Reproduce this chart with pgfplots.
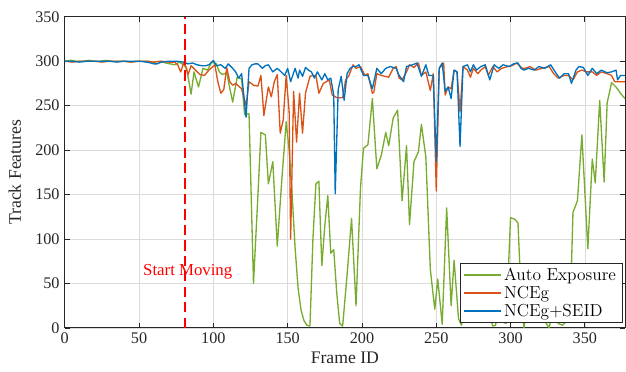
\documentclass[border=0pt]{standalone}
\usepackage{pgfplots}
\pgfplotsset{compat=1.18}
\usepackage{fontspec}
\newfontfamily\tnr{Liberation Serif}
\definecolor{mblue}{rgb}{0,0.447,0.741}
\definecolor{morange}{rgb}{0.85,0.325,0.098}
\definecolor{mgreen}{rgb}{0.466,0.674,0.188}
\definecolor{axgray}{rgb}{0.15,0.15,0.15}
\begin{document}
\begin{tikzpicture}
\begin{axis}[
 scale only axis, width=380.5pt, height=211.3pt,
 xmin=0, xmax=377, ymin=0, ymax=350,
 xtick={0,50,...,350}, ytick={0,50,...,350},
 tick align=inside, xtick pos=both, ytick pos=both,
 major tick length=3.5pt,
 grid=major, major grid style={color=black!14, line width=0.4pt},
 axis line style={axgray, line width=0.6pt},
 every tick/.style={axgray, line width=0.5pt},
 ticklabel style={font=\fontsize{11}{13}\selectfont\tnr, text=axgray},
 /pgf/number format/assume math mode=true,
 xlabel={Frame ID}, ylabel={Track Features},
 label style={font=\fontsize{12}{14}\selectfont\tnr, text=axgray},
 xlabel style={at={(axis description cs:0.5,0)}, anchor=center, yshift=-20.2pt},
 ylabel style={at={(axis description cs:-0.089,0.5)}, anchor=center},
 legend style={at={(0.995,0.017)}, anchor=south east, font=\fontsize{11.8}{13}\selectfont, draw=axgray, fill=white, inner xsep=2pt, inner ysep=1.5pt, row sep=0pt, nodes={fill=none, inner ysep=1.2pt}},
 legend cell align=left,
 legend image code/.code={\draw[#1] (0pt,0pt) -- (25pt,0pt);},
]
\addplot[color=mgreen, line width=0.9pt, line join=round, mark=none] coordinates {
(0,300)(4,301)(8,300)(12,300)(16,301)(20,300)(24,300)(28,301)(32,300)(36,300)(40,300)(44,299)(48,300)(52,300)(56,300)(60,299)(64,300)(68,298)(71,297)(74,296)(77,299)(80,296)(82,292)(85,263)(87,288)(90,271)(93,292)(96,290)(99,299)(102,297)(104,288)(106,285)(109,287)(111,270)(113,254)(116,282)(119,280)(121,240)(124,241)(127,50)(130,150)(132,220)(135,217)(137,162)(140,187)(143,92)(146,165)(149,232)(151,200)(153,150)(155,90)(157,45)(159,20)(161,8)(163,3)(165,2)(167,100)(169,162)(171,165)(173,70)(175,115)(177,149)(179,84)(181,88)(183,40)(185,5)(187,2)(190,60)(193,123)(196,25)(199,157)(201,202)(204,206)(207,258)(210,179)(213,194)(216,220)(218,205)(221,236)(224,245)(227,143)(230,205)(232,116)(235,187)(238,198)(240,229)(243,192)(246,66)(249,21)(251,55)(254,4)(257,135)(260,25)(262,76)(265,10)(267,3)(269,25)(271,50)(273,15)(276,60)(279,30)(281,8)(284,45)(286,15)(288,2)(290,3)(292,40)(294,7)(297,5)(300,124)(303,122)(305,118)(307,40)(309,0)(312,30)(315,10)(318,55)(321,20)(324,5)(326,0)(329,25)(332,5)(335,3)(338,8)(340,10)(342,130)(345,143)(348,217)(352,89)(355,190)(357,163)(360,256)(363,164)(365,253)(368,276)(371,271)(374,264)(377,258)
};
\addlegendentry{Auto Exposure}
\addplot[color=morange, line width=0.9pt, line join=round, mark=none] coordinates {
(0,300)(5,299)(10,300)(15,300)(20,300)(25,299)(30,300)(35,300)(40,300)(45,299)(50,300)(55,300)(60,299)(65,300)(70,299)(74,299)(76,296)(78,288)(80,298)(81,296)(83,285)(85,295)(88,290)(91,285)(94,284)(97,290)(101,296)(103,277)(105,264)(107,268)(109,293)(111,277)(113,273)(115,275)(119,269)(122,250)(124,277)(127,273)(130,272)(132,284)(134,239)(137,271)(139,260)(141,277)(143,285)(145,219)(147,234)(149,284)(151,243)(152,100)(154,266)(156,209)(158,264)(160,219)(162,264)(165,283)(167,284)(169,284)(171,264)(174,275)(176,277)(178,279)(180,262)(183,259)(185,259)(187,259)(189,279)(191,283)(194,296)(196,292)(199,294)(202,284)(204,286)(207,264)(208,265)(210,286)(213,284)(218,282)(221,292)(223,294)(225,281)(227,279)(230,288)(232,296)(235,293)(238,298)(240,284)(243,288)(246,267)(248,286)(250,154)(252,292)(255,298)(256,262)(258,271)(260,269)(262,290)(264,288)(266,243)(268,294)(271,290)(273,282)(275,292)(278,286)(280,290)(283,294)(285,284)(288,294)(291,288)(294,292)(298,294)(301,295)(304,298)(308,292)(310,292)(313,294)(317,290)(321,292)(326,294)(329,286)(332,281)(336,284)(339,284)(342,279)(345,288)(348,290)(351,288)(355,288)(358,284)(361,288)(365,286)(368,284)(370,277)(372,277)(377,277)
};
\addlegendentry{NCEg}
\addplot[color=mblue, line width=0.9pt, line join=round, mark=none] coordinates {
(0,300)(5,300)(10,299)(15,300)(20,300)(25,300)(30,300)(35,299)(40,300)(45,300)(50,300)(55,299)(58,298)(60,297)(62,297)(65,299)(70,300)(75,300)(80,299)(83,297)(86,298)(89,296)(92,295)(95,295)(97,296)(100,301)(102,295)(105,296)(108,292)(110,297)(113,292)(115,288)(117,281)(119,286)(122,237)(124,292)(126,296)(128,297)(130,297)(133,292)(135,295)(137,296)(140,288)(143,292)(145,289)(148,284)(150,292)(152,277)(155,292)(157,281)(158,290)(160,283)(162,293)(164,290)(166,288)(168,281)(170,288)(173,279)(175,286)(177,279)(179,281)(181,262)(182,151)(184,268)(186,283)(188,256)(190,286)(192,292)(194,294)(196,294)(198,296)(201,284)(204,284)(207,269)(210,292)(213,286)(216,292)(219,294)(223,292)(225,284)(228,277)(230,294)(234,296)(237,298)(240,283)(243,296)(245,284)(248,284)(250,187)(252,292)(254,298)(256,266)(258,271)(260,258)(262,290)(264,288)(266,204)(268,294)(271,296)(273,288)(275,296)(277,290)(280,294)(283,296)(286,279)(289,296)(292,292)(295,296)(299,294)(302,297)(305,298)(307,292)(309,290)(312,292)(316,290)(319,294)(323,292)(327,296)(330,288)(333,281)(336,286)(339,286)(341,275)(344,290)(346,294)(349,293)(352,284)(355,292)(358,286)(361,290)(365,287)(368,288)(371,290)(372,279)(374,284)(377,284)
};
\addlegendentry{NCEg+SEID}
\addplot[red, line width=1pt, dash pattern=on 7pt off 3.5pt, forget plot] coordinates {(81,0)(81,350)};
\node[anchor=west, inner sep=0pt, text=red, font=\fontsize{11.4}{13}\selectfont\tnr] at (axis cs:52.6,63) {Start Moving};
\coordinate (bl) at (rel axis cs:0,0);
\coordinate (tr) at (rel axis cs:1,1);
\end{axis}
\pgfresetboundingbox
\path (bl) ++(-44pt,-29.7pt) coordinate (BB1);
\path (tr) ++(0.7pt,11.4pt) coordinate (BB2);
\useasboundingbox (BB1) rectangle (BB2);
\end{tikzpicture}
\end{document}
